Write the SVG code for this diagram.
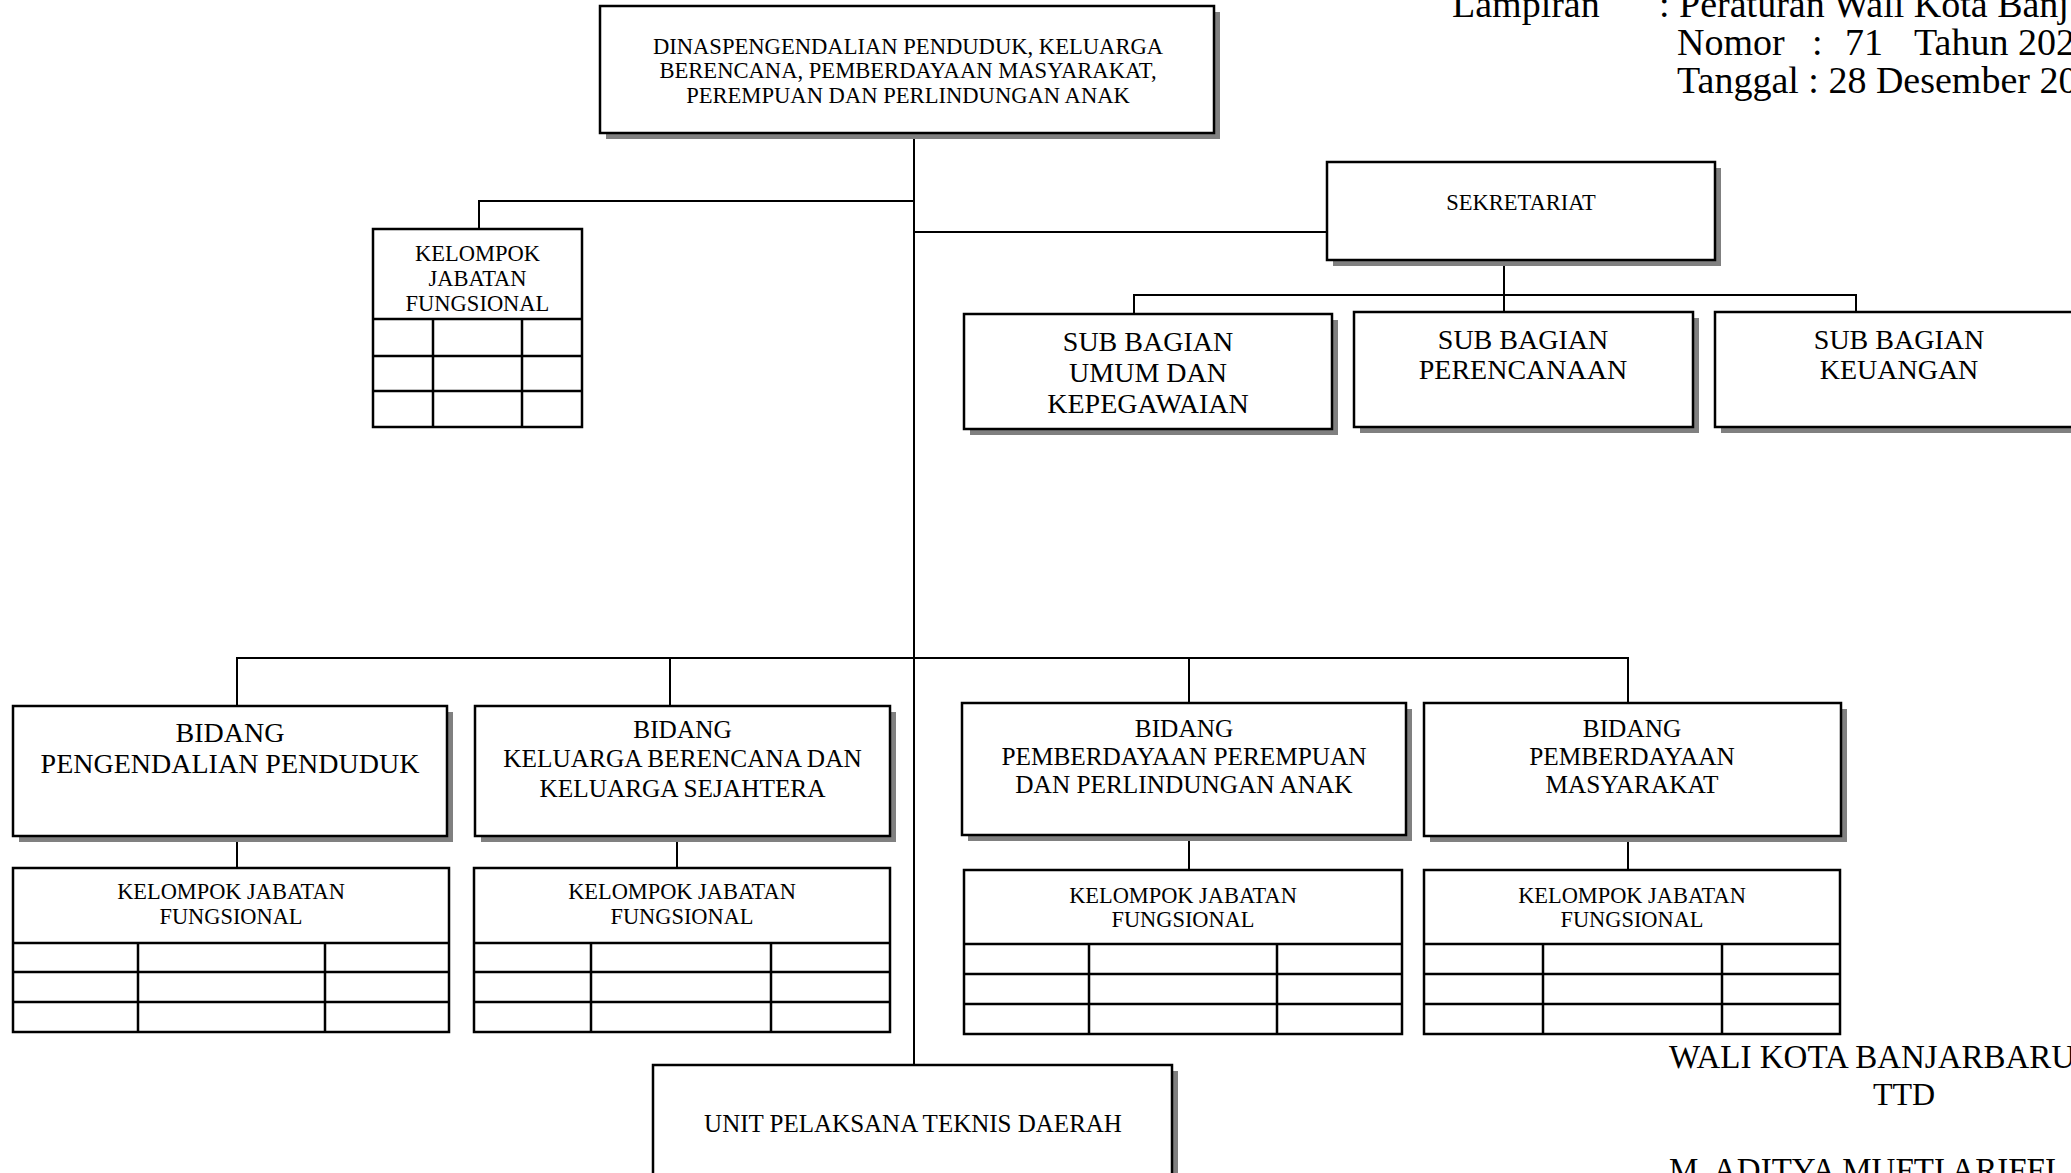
<svg xmlns="http://www.w3.org/2000/svg" width="2071" height="1173" viewBox="0 0 2071 1173">
<style>
.bg{fill:#fff}
.sh{fill:#808080}
.box{fill:#fff;stroke:#000;stroke-width:2.5}
.ln{fill:none;stroke:#000;stroke-width:2}
.tl{fill:none;stroke:#000;stroke-width:2.5}
text{font-family:"Liberation Serif","Times New Roman",serif;fill:#000}
.c{text-anchor:middle}
</style>
<rect class="bg" x="0" y="0" width="2071" height="1173"/>

<g id="connectors">
<path class="ln" d="M914,133 V1065"/>
<path class="ln" d="M479,229 V201 H914"/>
<path class="ln" d="M914,232 H1327"/>
<path class="ln" d="M1504,260 V312"/>
<path class="ln" d="M1134,314 V295 H1856 V312"/>
<path class="ln" d="M237,706 V658 H1628 V703"/>
<path class="ln" d="M670,658 V706"/>
<path class="ln" d="M1189,658 V703"/>
<path class="ln" d="M237,836 V868"/>
<path class="ln" d="M677,836 V868"/>
<path class="ln" d="M1189,835 V870"/>
<path class="ln" d="M1628,836 V870"/>
</g>

<g id="dinas">
<rect class="sh" x="606" y="12" width="614" height="127"/>
<rect class="box" x="600" y="6" width="614" height="127"/>
<text class="c" x="908" y="54" font-size="22.6">DINASPENGENDALIAN PENDUDUK, KELUARGA</text>
<text class="c" x="908" y="78" font-size="22.6">BERENCANA, PEMBERDAYAAN MASYARAKAT,</text>
<text class="c" x="908" y="103" font-size="22.6">PEREMPUAN DAN PERLINDUNGAN ANAK</text>
</g>

<g id="kjf-top">
<rect class="box" x="373" y="229" width="209" height="198"/>
<path class="tl" d="M373,319 H582 M373,356 H582 M373,391 H582 M433,319 V427 M522,319 V427"/>
<text class="c" x="477.5" y="261" font-size="22.5">KELOMPOK</text>
<text class="c" x="477.5" y="286" font-size="22.5">JABATAN</text>
<text class="c" x="477.5" y="311" font-size="22.5">FUNGSIONAL</text>
</g>

<g id="sekretariat">
<rect class="sh" x="1333" y="168" width="388" height="98"/>
<rect class="box" x="1327" y="162" width="388" height="98"/>
<text class="c" x="1521" y="210" font-size="22.5">SEKRETARIAT</text>
</g>

<g id="subbag-umum">
<rect class="sh" x="970" y="320" width="368" height="115"/>
<rect class="box" x="964" y="314" width="368" height="115"/>
<text class="c" x="1148" y="351" font-size="28">SUB BAGIAN</text>
<text class="c" x="1148" y="382" font-size="28">UMUM DAN</text>
<text class="c" x="1148" y="413" font-size="28">KEPEGAWAIAN</text>
</g>

<g id="subbag-perencanaan">
<rect class="sh" x="1360" y="318" width="339" height="115"/>
<rect class="box" x="1354" y="312" width="339" height="115"/>
<text class="c" x="1523" y="349" font-size="28">SUB BAGIAN</text>
<text class="c" x="1523" y="379" font-size="28">PERENCANAAN</text>
</g>

<g id="subbag-keuangan">
<rect class="sh" x="1721" y="318" width="368" height="115"/>
<rect class="box" x="1715" y="312" width="368" height="115"/>
<text class="c" x="1899" y="349" font-size="28">SUB BAGIAN</text>
<text class="c" x="1899" y="379" font-size="28">KEUANGAN</text>
</g>

<g id="bidang-pengendalian">
<rect class="sh" x="19" y="712" width="434" height="130"/>
<rect class="box" x="13" y="706" width="434" height="130"/>
<text class="c" x="230" y="742" font-size="28">BIDANG</text>
<text class="c" x="230" y="773" font-size="28">PENGENDALIAN PENDUDUK</text>
</g>

<g id="bidang-kb">
<rect class="sh" x="481" y="712" width="415" height="130"/>
<rect class="box" x="475" y="706" width="415" height="130"/>
<text class="c" x="682.5" y="738" font-size="25.3">BIDANG</text>
<text class="c" x="682.5" y="767" font-size="25.3">KELUARGA BERENCANA DAN</text>
<text class="c" x="682.5" y="797" font-size="25.3">KELUARGA SEJAHTERA</text>
</g>

<g id="bidang-pppa">
<rect class="sh" x="968" y="709" width="444" height="132"/>
<rect class="box" x="962" y="703" width="444" height="132"/>
<text class="c" x="1184" y="737" font-size="25.3">BIDANG</text>
<text class="c" x="1184" y="765" font-size="25.3">PEMBERDAYAAN PEREMPUAN</text>
<text class="c" x="1184" y="793" font-size="25.3">DAN PERLINDUNGAN ANAK</text>
</g>

<g id="bidang-pm">
<rect class="sh" x="1430" y="709" width="417" height="133"/>
<rect class="box" x="1424" y="703" width="417" height="133"/>
<text class="c" x="1632" y="737" font-size="25.3">BIDANG</text>
<text class="c" x="1632" y="765" font-size="25.3">PEMBERDAYAAN</text>
<text class="c" x="1632" y="793" font-size="25.3">MASYARAKAT</text>
</g>

<g id="kjf-1">
<rect class="box" x="13" y="868" width="436" height="164"/>
<path class="tl" d="M13,943 H449 M13,972 H449 M13,1002 H449 M138,943 V1032 M325,943 V1032"/>
<text class="c" x="231" y="899" font-size="22.4">KELOMPOK JABATAN</text>
<text class="c" x="231" y="924" font-size="22.4">FUNGSIONAL</text>
</g>

<g id="kjf-2">
<rect class="box" x="474" y="868" width="416" height="164"/>
<path class="tl" d="M474,943 H890 M474,972 H890 M474,1002 H890 M591,943 V1032 M771,943 V1032"/>
<text class="c" x="682" y="899" font-size="22.4">KELOMPOK JABATAN</text>
<text class="c" x="682" y="924" font-size="22.4">FUNGSIONAL</text>
</g>

<g id="kjf-3">
<rect class="box" x="964" y="870" width="438" height="164"/>
<path class="tl" d="M964,944 H1402 M964,974 H1402 M964,1004 H1402 M1089,944 V1034 M1277,944 V1034"/>
<text class="c" x="1183" y="903" font-size="22.4">KELOMPOK JABATAN</text>
<text class="c" x="1183" y="927" font-size="22.4">FUNGSIONAL</text>
</g>

<g id="kjf-4">
<rect class="box" x="1424" y="870" width="416" height="164"/>
<path class="tl" d="M1424,944 H1840 M1424,974 H1840 M1424,1004 H1840 M1543,944 V1034 M1722,944 V1034"/>
<text class="c" x="1632" y="903" font-size="22.4">KELOMPOK JABATAN</text>
<text class="c" x="1632" y="927" font-size="22.4">FUNGSIONAL</text>
</g>

<g id="upt">
<rect class="sh" x="659" y="1071" width="519" height="130"/>
<rect class="box" x="653" y="1065" width="519" height="130"/>
<text class="c" x="913" y="1132" font-size="25">UNIT PELAKSANA TEKNIS DAERAH</text>
</g>

<g id="lampiran">
<text x="1452" y="17" font-size="38">Lampiran</text>
<text x="1659" y="17" font-size="38">: Peraturan Wali Kota Banj</text>
<text x="1677" y="55" font-size="38">Nomor</text>
<text x="1812" y="55" font-size="38">:</text>
<text x="1845" y="55" font-size="38">71</text>
<text x="1914" y="55" font-size="38">Tahun 202</text>
<text x="1677" y="93" font-size="38">Tanggal : 28 Desember 20</text>
</g>

<g id="ttd">
<text x="1669" y="1068" font-size="33">WALI KOTA BANJARBARU</text>
<text x="1873" y="1105" font-size="32">TTD</text>
<text x="1669" y="1181" font-size="33">M. ADITYA MUFTI ARIFFI</text>
</g>
</svg>
